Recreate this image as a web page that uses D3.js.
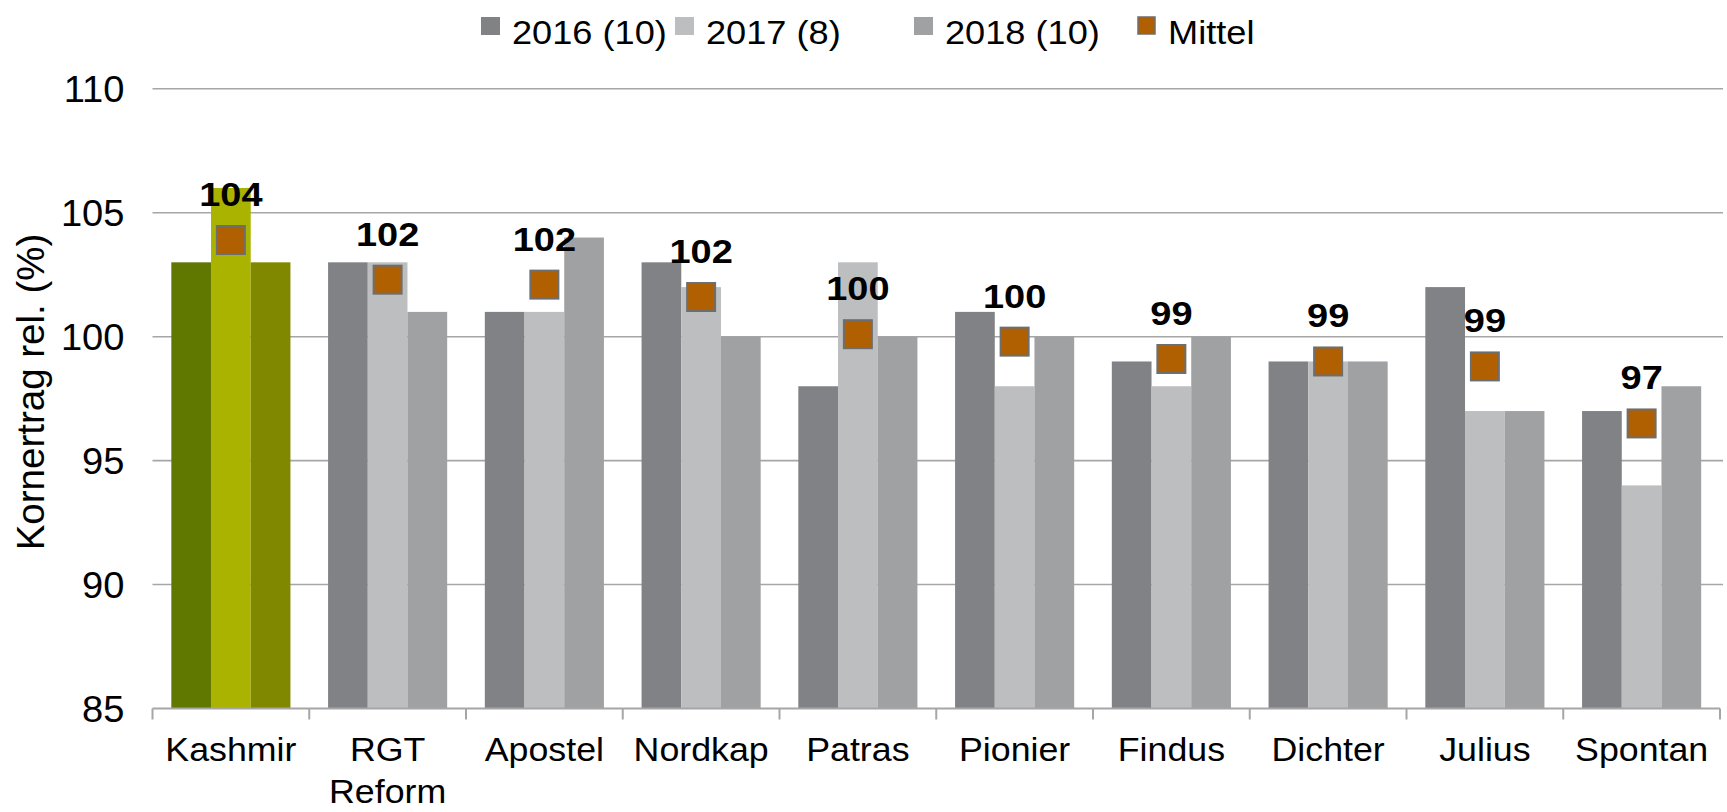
<!DOCTYPE html>
<html>
<head>
<meta charset="utf-8">
<script src="https://cdn.jsdelivr.net/npm/d3@7"></script>
<style>
  body { margin: 0; background: #fff; }
  text { font-family: "Liberation Sans", Arial, sans-serif; }
</style>
</head>
<body>
<svg width="1727" height="812"></svg>
<script>
// data
var categories = ["Kashmir", "RGT Reform", "Apostel", "Nordkap", "Patras", "Pionier", "Findus", "Dichter", "Julius", "Spontan"];
var y2016 = [103, 103, 101, 103, 98, 101, 99, 99, 102, 97];
var y2017 = [106, 103, 101, 102, 103, 98, 98, 99, 97, 94];
var y2018 = [103, 101, 104, 100, 100, 100, 100, 99, 97, 98];
var mittel = [103.9, 102.3, 102.1, 101.6, 100.1, 99.8, 99.1, 99.0, 98.8, 96.5];
var mittelLabels = ["104", "102", "102", "102", "100", "100", "99", "99", "99", "97"];
var seriesNames = ["2016 (10)", "2017 (8)", "2018 (10)"];
var yTicks = [85, 90, 95, 100, 105, 110];

var grayColors = ["#808285", "#bdbec0", "#a0a1a3"];
var greenColors = ["#607800", "#aab400", "#808800"];

var svg = d3.select("svg");
var pLeft = 152.5, pRight = 1720, pTop = 88.8, pBottom = 708.5;

var xScale = d3.scaleBand().domain(categories).range([pLeft, pRight]).padding(0);
var sub = d3.scaleBand().domain([0, 1, 2]).range([0, xScale.bandwidth()]).paddingInner(0).paddingOuter(0.474);
var yScale = d3.scaleLinear().domain([85, 110]).range([pBottom, pTop]);

// little helper: text stretched sideways like the original
function stxt(sel, x, y, sx, txt, size, anchor, weight) {
  return sel.append("text")
    .attr("transform", "translate(" + x + "," + y + ") scale(" + sx + ",1)")
    .attr("text-anchor", anchor)
    .style("font-size", size + "px")
    .style("font-weight", weight || "normal")
    .style("fill", "#000")
    .text(txt);
}

// grid
svg.append("g")
  .selectAll("line")
  .data(yTicks.slice(1))
  .enter()
  .append("line")
  .attr("x1", pLeft).attr("x2", pRight + 3)
  .attr("y1", function (d) { return yScale(d); })
  .attr("y2", function (d) { return yScale(d); })
  .style("stroke", "#a6a6a6")
  .style("stroke-width", 1.6);

// y tick labels
var yl = svg.append("g");
yTicks.forEach(function (t) {
  stxt(yl, 124.5, yScale(t) + 13.3, 1.03, t, 37, "end");
});

// bars
var rows = categories.map(function (c, i) { return [y2016[i], y2017[i], y2018[i]]; });
var groups = svg.append("g")
  .selectAll("g")
  .data(rows)
  .enter()
  .append("g")
  .attr("transform", function (d, i) { return "translate(" + xScale(categories[i]) + ",0)"; });

groups.selectAll("rect")
  .data(function (d, i) { return d.map(function (v, k) { return { v: v, k: k, i: i }; }); })
  .enter()
  .append("rect")
  .attr("x", function (d) { return sub(d.k); })
  .attr("width", sub.bandwidth())
  .attr("y", function (d) { return yScale(d.v); })
  .attr("height", function (d) { return yScale(85) - yScale(d.v); })
  .style("fill", function (d) { return d.i === 0 ? greenColors[d.k] : grayColors[d.k]; });

// x axis
var xa = svg.append("g").attr("transform", "translate(0," + pBottom + ")");
xa.append("line").attr("x1", pLeft).attr("x2", pRight).style("stroke", "#a6a6a6").style("stroke-width", 2);
xa.selectAll("line.tk")
  .data(categories.concat(["end"]))
  .enter()
  .append("line")
  .attr("class", "tk")
  .attr("x1", function (d, i) { return pLeft + i * xScale.step(); })
  .attr("x2", function (d, i) { return pLeft + i * xScale.step(); })
  .attr("y1", 0).attr("y2", 11)
  .style("stroke", "#a6a6a6").style("stroke-width", 2);

var xl = svg.append("g");
categories.forEach(function (c) {
  var cx = xScale(c) + xScale.bandwidth() / 2;
  c.split(" ").forEach(function (part, j) {
    stxt(xl, cx, 761 + j * 42, 1.1, part, 32.5, "middle");
  });
});

// mean markers + labels
var mk = svg.append("g");
mk.selectAll("rect")
  .data(mittel)
  .enter()
  .append("rect")
  .attr("x", function (d, i) { return xScale(categories[i]) + xScale.bandwidth() / 2 - 14; })
  .attr("y", function (d) { return yScale(d) - 14; })
  .attr("width", 28).attr("height", 28)
  .style("fill", "#b06000")
  .style("stroke", "#6d6e70")
  .style("stroke-width", 2);

mittel.forEach(function (m, i) {
  stxt(mk, xScale(categories[i]) + xScale.bandwidth() / 2, yScale(m) - 34, 1.15, mittelLabels[i], 33, "middle", "bold");
});

// y axis title
svg.append("text")
  .attr("transform", "translate(44,392) rotate(-90)")
  .attr("text-anchor", "middle")
  .style("font-size", "38.5px")
  .text("Kornertrag rel. (%)");

// legend
var legX = [481, 675, 914, 1137];
var legNames = seriesNames.concat(["Mittel"]);
var leg = svg.append("g");
legNames.forEach(function (n, i) {
  leg.append("rect")
    .attr("x", legX[i] + (i === 3 ? 1 : 0)).attr("y", 17)
    .attr("width", i === 3 ? 17 : 19).attr("height", i === 3 ? 17 : 18)
    .style("fill", i === 3 ? "#b06000" : grayColors[i])
    .style("stroke", i === 3 ? "#6d6e70" : "none")
    .style("stroke-width", 1.5);
  stxt(leg, legX[i] + 31, 44, 1.08, n, 33.5, "start");
});
</script>
</body>
</html>
